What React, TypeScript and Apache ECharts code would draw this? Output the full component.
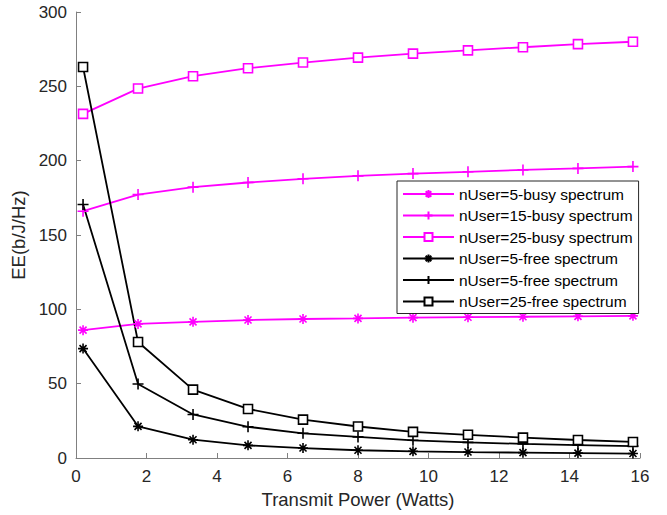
import React, { useEffect, useRef } from "react";
import * as echarts from "echarts";

// Transmit power samples (Watts)
const powers = [0.2, 1.76, 3.32, 4.88, 6.44, 8.0, 9.56, 11.12, 12.68, 14.24, 15.8];

// Energy efficiency, busy spectrum
const busy5 = [86, 90.2, 91.6, 92.8, 93.5, 93.9, 94.4, 94.7, 95.0, 95.3, 95.6];
const busy15 = [166, 177.2, 182.2, 185.3, 187.8, 189.8, 191.3, 192.5, 193.8, 194.8, 196];
const busy25 = [231.5, 248.5, 256.8, 262.2, 266, 269.3, 272, 274.2, 276.3, 278.4, 280];

// Energy efficiency, free spectrum
const free5 = [73.6, 21.3, 12.3, 8.5, 6.7, 5.2, 4.5, 4.0, 3.6, 3.3, 3.0];
const free15 = [170.5, 49.8, 29.3, 21, 16.6, 14.2, 11.9, 10.5, 9.5, 8.7, 8.0];
const free25 = [263, 78, 46, 33, 25.8, 21.2, 17.6, 15.6, 13.7, 12.1, 10.8];

// Series names (the fifth carries a trailing space so both "5-free" entries stay distinct)
const seriesNames = [
  "nUser=5-busy spectrum",
  "nUser=15-busy spectrum",
  "nUser=25-busy spectrum",
  "nUser=5-free spectrum",
  "nUser=5-free spectrum ",
  "nUser=25-free spectrum",
];

const MAGENTA = "#ff00ff";
const BLACK = "#000000";

const PLUS = "path://M5,0L5,10M0,5L10,5";
const STAR = "path://M5,0L5,10M0,5L10,5M1.5,1.5L8.5,8.5M8.5,1.5L1.5,8.5";

const FONT = "'Liberation Sans', Arial, Helvetica, sans-serif";

function makeSeries(name: string, values: number[], color: string, symbol: string, size: number) {
  const isRect = symbol === "rect";
  return {
    name,
    type: "line",
    data: powers.map((x, i) => [x, values[i]]),
    symbol,
    symbolSize: size,
    showAllSymbol: true,
    lineStyle: { color, width: 1.8 },
    itemStyle: {
      color: isRect ? "#ffffff" : color,
      borderColor: color,
      borderWidth: 1.6,
    },
    emphasis: { disabled: true },
    z: 2,
  };
}

export default function App() {
  const ref = useRef<HTMLDivElement>(null);

  useEffect(() => {
    if (!ref.current) return;
    const chart = echarts.init(ref.current, undefined, { renderer: "svg" });
    chart.setOption({
      animation: false,
      backgroundColor: "#ffffff",
      textStyle: { fontFamily: FONT },
      grid: { left: 76, right: 27, top: 12, bottom: 57, containLabel: false },
      xAxis: {
        type: "value",
        min: 0,
        max: 16,
        interval: 2,
        name: "Transmit Power (Watts)",
        nameLocation: "middle",
        nameGap: 32,
        nameTextStyle: { fontSize: 18.5, color: "#262626", fontFamily: FONT },
        axisLine: { show: true, lineStyle: { color: "#808080", width: 1 } },
        axisTick: { show: true, inside: true, length: 5, lineStyle: { color: "#808080" } },
        axisLabel: { fontSize: 17, color: "#262626", margin: 10, fontFamily: FONT },
        splitLine: { show: false },
      },
      yAxis: {
        type: "value",
        min: 0,
        max: 300,
        interval: 50,
        name: "EE(b/J/Hz)",
        nameLocation: "middle",
        nameGap: 43,
        nameRotate: 90,
        nameTextStyle: { fontSize: 18.5, color: "#262626", fontFamily: FONT },
        axisLine: { show: true, lineStyle: { color: "#808080", width: 1 } },
        axisTick: { show: true, inside: true, length: 5, lineStyle: { color: "#808080" } },
        axisLabel: { fontSize: 17, color: "#262626", margin: 9, fontFamily: FONT },
        splitLine: { show: false },
      },
      legend: {
        orient: "vertical",
        left: 397,
        top: 181,
        data: seriesNames,
        backgroundColor: "#ffffff",
        borderColor: "#262626",
        borderWidth: 1,
        borderRadius: 0,
        padding: [5, 6, 4, 5],
        itemWidth: 51,
        itemHeight: 10,
        itemGap: 5.5,
        textStyle: { fontSize: 15.5, color: "#000000", fontFamily: FONT },
        formatter: (n: string) => n.trim(),
        selectedMode: false,
      },
      series: [
        makeSeries(seriesNames[0], busy5, MAGENTA, STAR, 10),
        makeSeries(seriesNames[1], busy15, MAGENTA, PLUS, 11),
        makeSeries(seriesNames[2], busy25, MAGENTA, "rect", 9),
        makeSeries(seriesNames[3], free5, BLACK, STAR, 10),
        makeSeries(seriesNames[4], free15, BLACK, PLUS, 11),
        makeSeries(seriesNames[5], free25, BLACK, "rect", 9),
      ],
    });
    return () => chart.dispose();
  }, []);

  return (
    <div
      ref={ref}
      style={{ position: "fixed", left: 0, top: 0, width: 667, height: 515 }}
    />
  );
}
